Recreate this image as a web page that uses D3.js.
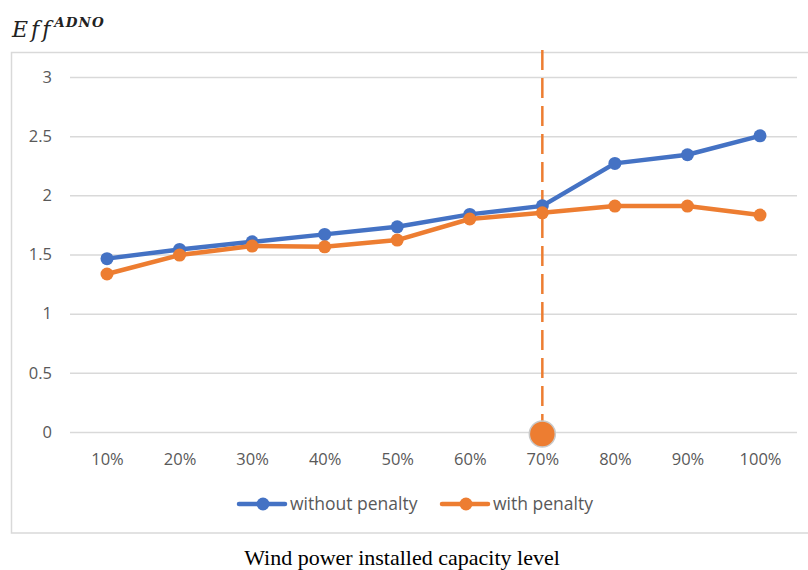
<!DOCTYPE html>
<html>
<head>
<meta charset="utf-8">
<script src="https://cdn.jsdelivr.net/npm/d3@7"></script>
<style>
  body { margin: 0; background: #fff; }
  svg { display: block; }
</style>
</head>
<body>
<div id="chart"></div>
<script>
//******************************************************************************
//**  Chart data
//******************************************************************************
var categories = ["10%","20%","30%","40%","50%","60%","70%","80%","90%","100%"];
var withoutPenalty = [1.465, 1.543, 1.607, 1.67, 1.734, 1.839, 1.911, 2.27, 2.343, 2.503];
var withPenalty = [1.335, 1.495, 1.571, 1.565, 1.622, 1.80, 1.852, 1.909, 1.909, 1.833];
var yTicks = [0, 0.5, 1, 1.5, 2, 2.5, 3];
var seriesNames = ["without penalty", "with penalty"];
var markerCategory = "70%";
var markerValue = 0;

var width = 808, height = 570;
var blue = "#4472C4", orange = "#ED7D31";
var tickFont = "'Open Sans', 'Noto Sans', sans-serif";

var svg = d3.select("#chart").append("svg")
    .attr("width", width)
    .attr("height", height);

// chart frame
svg.append("rect")
    .attr("x", 11.5).attr("y", 52.5)
    .attr("width", 810).attr("height", 480.5)
    .attr("fill", "none")
    .attr("stroke", "#D9D9D9")
    .attr("stroke-width", 1.5);

var x = d3.scalePoint().domain(categories).range([107, 760]);
var y = d3.scaleLinear().domain([0, 3]).range([432, 77]);

// gridlines + y labels
var yAxis = d3.axisLeft(y).tickValues(yTicks).tickFormat(d3.format("")).tickSize(-(797 - 70)).tickPadding(18);
var gy = svg.append("g").attr("transform", "translate(70,0)").call(yAxis);
gy.select(".domain").remove();
gy.selectAll(".tick line").attr("stroke", "#D9D9D9").attr("stroke-width", 1.5);
gy.selectAll(".tick text")
    .attr("fill", "#595959")
    .style("font-family", tickFont)
    .style("font-size", "16.5px");

// x labels
var xAxis = d3.axisBottom(x).tickSize(0).tickPadding(21);
var gx = svg.append("g").attr("transform", "translate(0,432)").call(xAxis);
gx.select(".domain").remove();
gx.selectAll(".tick text")
    .attr("fill", "#595959")
    .style("font-family", tickFont)
    .style("font-size", "16.5px");

// dashed marker line
svg.append("line")
    .attr("x1", x(markerCategory)).attr("x2", x(markerCategory))
    .attr("y1", 50).attr("y2", y(markerValue))
    .attr("stroke", orange)
    .attr("stroke-width", 2.5)
    .attr("stroke-dasharray", "20,8");

// series
var line = d3.line()
    .x(function(d, i){ return x(categories[i]); })
    .y(function(d){ return y(d); });

[[withoutPenalty, blue], [withPenalty, orange]].forEach(function(s){
    svg.append("path")
        .datum(s[0])
        .attr("d", line)
        .attr("fill", "none")
        .attr("stroke", s[1])
        .attr("stroke-width", 4.5)
        .attr("stroke-linejoin", "round");
    svg.selectAll(null).data(s[0]).enter().append("circle")
        .attr("cx", function(d, i){ return x(categories[i]); })
        .attr("cy", function(d){ return y(d); })
        .attr("r", 6.5)
        .attr("fill", s[1]);
});

// big marker dot
svg.append("circle")
    .attr("cx", x(markerCategory))
    .attr("cy", y(markerValue) + 2)
    .attr("r", 13)
    .attr("fill", orange)
    .attr("stroke", "#C9C9C9")
    .attr("stroke-width", 1.5);

// legend
var legend = [
    {name: seriesNames[0], color: blue, x: 239},
    {name: seriesNames[1], color: orange, x: 442}
];
legend.forEach(function(l){
    var g = svg.append("g").attr("transform", "translate(" + l.x + ",504)");
    g.append("line").attr("x1", 0).attr("x2", 46).attr("y1", 0).attr("y2", 0)
        .attr("stroke", l.color).attr("stroke-width", 4.5).attr("stroke-linecap", "round");
    g.append("circle").attr("cx", 24).attr("cy", 0).attr("r", 6.5).attr("fill", l.color);
    g.append("text").attr("x", 51).attr("y", 0).attr("dy", "0.35em")
        .attr("fill", "#595959")
        .style("font-family", tickFont)
        .style("font-size", "17.5px")
        .text(l.name);
});

// y label: Eff^ADNO
var ylab = svg.append("text")
    .attr("x", 12).attr("y", 37)
    .style("font-family", "'DejaVu Serif', 'Liberation Serif', serif")
    .style("font-style", "italic")
    .attr("fill", "#222");
ylab.append("tspan").style("font-size", "22px").style("letter-spacing", "3px").text("Eff");
ylab.append("tspan").attr("dy", -10).attr("dx", 1)
    .style("font-size", "13.5px").style("font-weight", "bold").style("letter-spacing", "1px").text("ADNO");

// x title
svg.append("text")
    .attr("x", 402).attr("y", 565)
    .attr("text-anchor", "middle")
    .style("font-family", "'Liberation Serif', 'Times New Roman', serif")
    .style("font-size", "22px")
    .attr("fill", "#000")
    .text("Wind power installed capacity level");
</script>
</body>
</html>
